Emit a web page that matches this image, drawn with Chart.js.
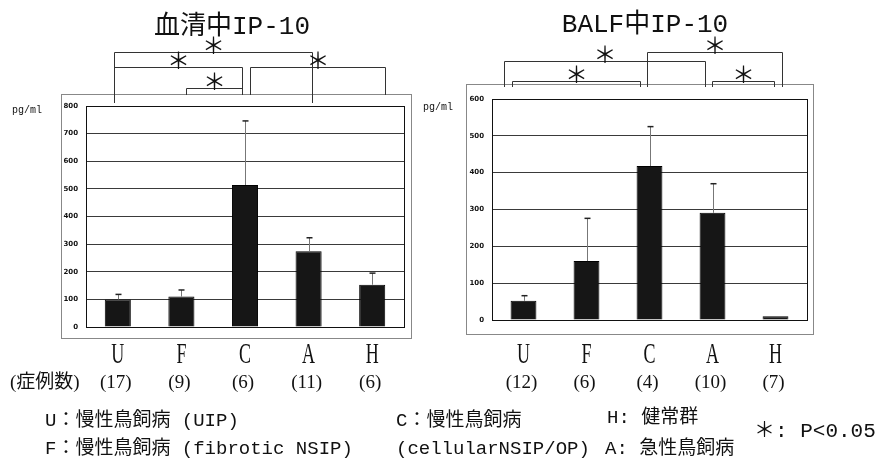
<!DOCTYPE html>
<html>
<head>
<meta charset="utf-8">
<script src="https://cdn.jsdelivr.net/npm/chart.js@4.4.1/dist/chart.umd.min.js"></script>
<style>
  body { margin: 0; background: #fff; }
  #page { position: relative; width: 884px; height: 464px; overflow: hidden; }
  canvas { position: absolute; left: 0; top: 0; }
  .note { position: absolute; font: 19px "Liberation Mono", "Noto Sans CJK JP"; line-height: 20px; color: #111; white-space: pre; }
</style>
</head>
<body>
<div id="page">
  <canvas id="serum" width="884" height="464"></canvas>
  <canvas id="balf" width="884" height="464"></canvas>
  <div class="note" style="left:45px;top:411px">U：慢性鳥飼病 (UIP)</div>
  <div class="note" style="left:45px;top:439px">F：慢性鳥飼病 (fibrotic NSIP)</div>
  <div class="note" style="left:396px;top:411px">C：慢性鳥飼病</div>
  <div class="note" style="left:396px;top:439px">(cellularNSIP/OP)</div>
  <div class="note" style="left:607px;top:408px">H: 健常群</div>
  <div class="note" style="left:605px;top:439px">A: 急性鳥飼病</div>
  <div class="note" style="left:754px;top:421px;font-size:21px;line-height:22px">＊: P<0.05</div>
</div>
<script>
const categories = ['U', 'F', 'C', 'A', 'H'];

// 血清中IP-10 (pg/ml): mean and SD
const serumMean = [100, 110, 514, 274, 153];
const serumSD = [18, 24, 232, 49, 42];
const serumN = ['(17)', '(9)', '(6)', '(11)', '(6)'];
const serumPairs = [['U', 'A'], ['U', 'C'], ['F', 'C'], ['C', 'H']];

// BALF中IP-10 (pg/ml)
const balfMean = [52, 160, 418, 291, 10];
const balfSD = [14, 116, 107, 79, 0];
const balfN = ['(12)', '(6)', '(4)', '(10)', '(7)'];
const balfPairs = [['U', 'A'], ['U', 'C'], ['C', 'H'], ['A', 'H']];

const monoFont = '"Liberation Mono", "Noto Sans CJK JP"';
const serifFont = '"Liberation Serif", "Noto Sans CJK JP"';

// bracket layout: line height, offsets from the two bar centres, leg ends
const serumBracketStyle = [
  {y: 52, dx: [-4, 3], leg: [103, 103]},
  {y: 67, dx: [-4, -3], leg: [103, 95]},
  {y: 88, dx: [5, -3], leg: [95, 95]},
  {y: 67, dx: [5, 13], leg: [95, 95]}
];
const balfBracketStyle = [
  {y: 61, dx: [-20, -8], leg: [87, 87]},
  {y: 81, dx: [-12, -10], leg: [87, 87]},
  {y: 52, dx: [-3, 6], leg: [87, 87]},
  {y: 81, dx: [-1, -2], leg: [87, 87]}
];

const decor = {
  id: 'decor',
  beforeDraw(chart, args, o) {
    const ctx = chart.ctx;
    const a = chart.chartArea;
    ctx.save();
    ctx.strokeStyle = '#888';
    ctx.lineWidth = 1;
    ctx.strokeRect(a.left + o.frame[0] + 0.5, a.top + o.frame[1] + 0.5,
      a.right - a.left - o.frame[0] + o.frame[2], a.bottom - a.top - o.frame[1] + o.frame[3]);
    ctx.restore();
  },
  afterDatasetsDraw(chart, args, o) {
    const ctx = chart.ctx;
    const a = chart.chartArea;
    const meta = chart.getDatasetMeta(0);
    const y = chart.scales.y;
    const x = chart.scales.x;
    ctx.save();
    // plot border
    ctx.strokeStyle = '#111';
    ctx.lineWidth = 1;
    ctx.strokeRect(a.left + 0.5, a.top + 0.5, a.right - a.left, a.bottom - a.top);

    // error bars (upper only)
    meta.data.forEach((bar, i) => {
      const sd = o.sd[i];
      if (!sd) return;
      const top = y.getPixelForValue(chart.data.datasets[0].data[i] + sd);
      const cx = Math.round(bar.x) + 0.5;
      ctx.strokeStyle = '#777';
      ctx.beginPath();
      ctx.moveTo(cx, bar.y);
      ctx.lineTo(cx, top);
      ctx.stroke();
      ctx.strokeStyle = '#222';
      ctx.lineWidth = 1.5;
      ctx.beginPath();
      ctx.moveTo(cx - 3, top);
      ctx.lineTo(cx + 3, top);
      ctx.stroke();
      ctx.lineWidth = 1;
    });

    // category letters, narrow serif
    ctx.fillStyle = '#111';
    ctx.textAlign = 'center';
    ctx.textBaseline = 'middle';
    ctx.font = '30px ' + serifFont;
    chart.data.labels.forEach((lab, i) => {
      ctx.save();
      ctx.translate(x.getPixelForValue(i), o.labelY);
      ctx.scale(0.6, 1);
      ctx.fillText(lab, 0, 0);
      ctx.restore();
    });

    // case counts
    ctx.font = '19px ' + serifFont;
    o.counts.forEach((t, i) => ctx.fillText(t, x.getPixelForValue(i) - 2, o.countY));
    if (o.countTitle) {
      ctx.textAlign = 'left';
      ctx.fillText(o.countTitle, 10, o.countY);
      ctx.textAlign = 'center';
    }

    // unit
    ctx.font = '10px ' + monoFont;
    ctx.textAlign = 'left';
    ctx.fillText('pg/ml', a.left + o.unit[0], a.top + o.unit[1]);

    // title
    ctx.textAlign = 'center';
    ctx.font = '26px ' + monoFont;
    ctx.fillText(o.title, o.titlePos[0], o.titlePos[1]);

    // significance brackets
    ctx.strokeStyle = '#333';
    ctx.lineWidth = 1;
    ctx.font = '23px "Noto Sans CJK JP"';
    o.pairs.forEach((p, k) => {
      const s = o.brackets[k];
      const x1 = Math.round(x.getPixelForValue(categories.indexOf(p[0])) + s.dx[0]) + 0.5;
      const x2 = Math.round(x.getPixelForValue(categories.indexOf(p[1])) + s.dx[1]) + 0.5;
      const by = s.y + 0.5;
      ctx.beginPath();
      ctx.moveTo(x1, s.leg[0]);
      ctx.lineTo(x1, by);
      ctx.lineTo(x2, by);
      ctx.lineTo(x2, s.leg[1]);
      ctx.stroke();
      ctx.fillText('＊', (x1 + x2) / 2, s.y - 7);
    });
    ctx.restore();
  }
};

function makeChart(id, mean, sd, max, pad, extra) {
  return new Chart(document.getElementById(id), {
    type: 'bar',
    data: {
      labels: categories,
      datasets: [{
        data: mean,
        backgroundColor: '#161616',
        borderColor: '#000',
        borderWidth: 1,
        categoryPercentage: 1,
        barPercentage: 0.41
      }]
    },
    options: {
      responsive: false,
      animation: false,
      layout: {padding: pad},
      plugins: {
        legend: {display: false},
        tooltip: {enabled: false},
        decor: Object.assign({sd: sd}, extra)
      },
      scales: {
        x: {
          grid: {display: false},
          border: {color: '#111'},
          ticks: {display: false},
          afterFit: s => { s.height = 10; }
        },
        y: {
          min: 0,
          max: max,
          ticks: {stepSize: 100, color: '#111', padding: 8,
            font: {size: 7, weight: 'bold', family: '"DejaVu Sans"'}},
          grid: {color: '#3a3a3a', drawTicks: false},
          border: {color: '#111'},
          afterFit: s => { s.width = 26; }
        }
      }
    },
    plugins: [decor]
  });
}

makeChart('serum', serumMean, serumSD, 800,
  {left: 60, right: 480, top: 106, bottom: 127},
  {
    frame: [-25, -12, 7, 11],
    labelY: 355, countY: 383, counts: serumN, countTitle: '(症例数)',
    unit: [-74, 4],
    title: '血清中IP-10', titlePos: [232, 27],
    pairs: serumPairs, brackets: serumBracketStyle
  });

makeChart('balf', balfMean, balfSD, 600,
  {left: 466, right: 77, top: 99, bottom: 134},
  {
    frame: [-26, -15, 6, 14],
    labelY: 355, countY: 383, counts: balfN, countTitle: '',
    unit: [-69, 8],
    title: 'BALF中IP-10', titlePos: [645, 25],
    pairs: balfPairs, brackets: balfBracketStyle
  });
</script>
</body>
</html>
